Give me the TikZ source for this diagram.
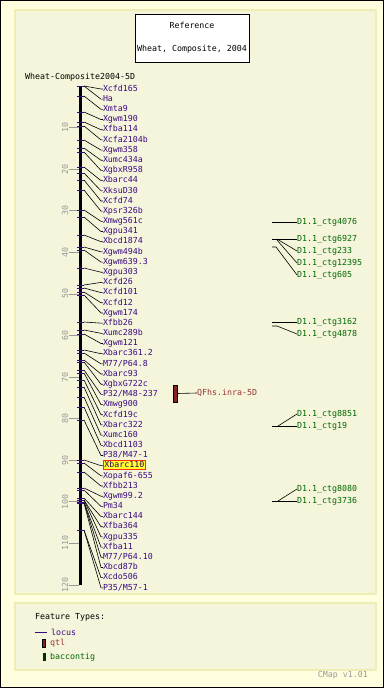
\documentclass[tikz,border=0pt]{standalone}
\usepackage{fontspec}
\usepackage{tikz}
\usetikzlibrary{positioning}
\newfontfamily\cmapfont{DejaVu Sans Mono}
\definecolor{cmOuter}{HTML}{FFFFE0}
\definecolor{cmPanel}{HTML}{F5F5DC}
\definecolor{cmEdge}{HTML}{EEEEB4}
\definecolor{cmLocus}{HTML}{3A0A80}
\definecolor{cmQtl}{HTML}{993333}
\definecolor{cmQtlBar}{HTML}{882222}
\definecolor{cmCtg}{HTML}{006600}
\definecolor{cmCtgBar}{HTML}{003300}
\definecolor{cmMute}{HTML}{999999}
\definecolor{cmMark}{HTML}{FF3300}
\definecolor{cmHigh}{HTML}{FFFF33}
\tikzset{
  cmtext/.style={font=\cmapfont\fontsize{8.3}{10}\selectfont, inner sep=0pt},
  panel/.style={draw=cmEdge, fill=cmPanel, line width=1.2pt},
  titlebox/.style={cmtext, draw, fill=white, line width=0.8pt, minimum width=114pt, minimum height=48pt, align=center},
  marker/.style={cmtext, text=cmLocus, text width=62pt, align=left, minimum height=10.18pt, outer sep=0pt, text height=6pt, text depth=1.5pt},
  ctglabel/.style={cmtext, text=cmCtg, anchor=west},
  qtllabel/.style={cmtext, text=cmQtl, anchor=west},
  scalenum/.style={cmtext, text=cmMute, rotate=90},
  locustick/.style={cmLocus, line width=0.8pt},
  majortick/.style={cmMute, line width=0.8pt},
  chraxis/.style={black, line width=3pt},
  conn/.style={black, line width=0.6pt},
  qtlbar/.style={draw=black, fill=cmQtlBar, line width=0.5pt, minimum width=4pt, minimum height=17pt, inner sep=0pt},
  legbar/.style={minimum width=3pt, minimum height=8pt, inner sep=0pt}
}
\newcommand{\hilite}[1]{{\fboxsep=0.6pt\fboxrule=0.8pt\fcolorbox{cmMark}{cmHigh}{\textcolor{cmLocus!70!black}{#1}}}}

\begin{document}
\begin{tikzpicture}[x=1pt, y=-1pt, node distance=0pt]
  \useasboundingbox (0,0) rectangle (384,688);
  \fill[cmOuter] (0,0) rectangle (384,688);
  \draw[black, line width=1pt] (0.5,0.5) rectangle (383.5,687.5);
  \draw[panel] (15,10) rectangle (376,594);
  \draw[panel] (15,603) rectangle (376,670);

  % title and map name
  \node[titlebox] (title) at (192,38) {Reference\\[13pt]Wheat, Composite, 2004};
  \node[cmtext, anchor=base west] (chrname) at (25,79) {Wheat-Composite2004-5D};

  % scale
  \draw[chraxis] (80,86) -- (80,585);
  \foreach \n in {10,20,...,120} {
    \draw[majortick] (69,{86+4.158*\n}) -- (79,{86+4.158*\n});
    \node[scalenum] (s\n) at (65,{86+4.158*\n}) {\n};
  }

  % loci
  \node[marker] (m1) at (134,89) {Xcfd165};
  \node[marker, below=of m1] (m2) {Ha};
  \node[marker, below=of m2] (m3) {Xmta9};
  \node[marker, below=of m3] (m4) {Xgwm190};
  \node[marker, below=of m4] (m5) {Xfba114};
  \node[marker, below=of m5] (m6) {Xcfa2104b};
  \node[marker, below=of m6] (m7) {Xgwm358};
  \node[marker, below=of m7] (m8) {Xumc434a};
  \node[marker, below=of m8] (m9) {XgbxR958};
  \node[marker, below=of m9] (m10) {Xbarc44};
  \node[marker, below=of m10] (m11) {XksuD30};
  \node[marker, below=of m11] (m12) {Xcfd74};
  \node[marker, below=of m12] (m13) {Xpsr326b};
  \node[marker, below=of m13] (m14) {Xmwg561c};
  \node[marker, below=of m14] (m15) {Xgpu341};
  \node[marker, below=of m15] (m16) {Xbcd1874};
  \node[marker, below=of m16] (m17) {Xgwm494b};
  \node[marker, below=of m17] (m18) {Xgwm639.3};
  \node[marker, below=of m18] (m19) {Xgpu303};
  \node[marker, below=of m19] (m20) {Xcfd26};
  \node[marker, below=of m20] (m21) {Xcfd101};
  \node[marker, below=of m21] (m22) {Xcfd12};
  \node[marker, below=of m22] (m23) {Xgwm174};
  \node[marker, below=of m23] (m24) {Xfbb26};
  \node[marker, below=of m24] (m25) {Xumc289b};
  \node[marker, below=of m25] (m26) {Xgwm121};
  \node[marker, below=of m26] (m27) {Xbarc361.2};
  \node[marker, below=of m27] (m28) {M77/P64.8};
  \node[marker, below=of m28] (m29) {Xbarc93};
  \node[marker, below=of m29] (m30) {XgbxG722c};
  \node[marker, below=of m30] (m31) {P32/M48-237};
  \node[marker, below=of m31] (m32) {Xmwg900};
  \node[marker, below=of m32] (m33) {Xcfd19c};
  \node[marker, below=of m33] (m34) {Xbarc322};
  \node[marker, below=of m34] (m35) {Xumc160};
  \node[marker, below=of m35] (m36) {Xbcd1103};
  \node[marker, below=of m36] (m37) {P38/M47-1};
  \node[marker, below=of m37] (m38) {\hilite{Xbarc110}};
  \node[marker, below=of m38] (m39) {Xopaf6-655};
  \node[marker, below=of m39] (m40) {Xfbb213};
  \node[marker, below=of m40] (m41) {Xgwm99.2};
  \node[marker, below=of m41] (m42) {Pm34};
  \node[marker, below=of m42] (m43) {Xbarc144};
  \node[marker, below=of m43] (m44) {Xfba364};
  \node[marker, below=of m44] (m45) {Xgpu335};
  \node[marker, below=of m45] (m46) {Xfba11};
  \node[marker, below=of m46] (m47) {M77/P64.10};
  \node[marker, below=of m47] (m48) {Xbcd87b};
  \node[marker, below=of m48] (m49) {Xcdo506};
  \node[marker, below=of m49] (m50) {P35/M57-1};

  \foreach \i/\y in {1/86, 2/86, 3/96, 4/112, 5/122, 6/126, 7/140, 8/148, 9/152, 10/167,
                     11/173, 12/180, 13/190, 14/210, 15/217, 16/235, 17/247, 18/250, 19/268, 20/285,
                     21/288, 22/292, 23/295, 24/322, 25/330, 26/334, 27/350, 28/353, 29/360, 30/362,
                     31/370, 32/373, 33/380, 34/387, 35/397, 36/407, 37/420, 38/460, 39/463, 40/472,
                     41/488, 42/490, 43/498, 44/500, 45/500, 46/502, 47/502, 48/503, 49/530, 50/530} {
    \coordinate (k\i) at (84,\y);
    \draw[locustick] (77,\y) -- (k\i);
    \draw[conn] (k\i) -- ([xshift=-2pt]m\i.west) -- (m\i.west);
  }

  % qtl
  \node[qtlbar] (qbar) at (175,393.5) {};
  \node[qtllabel] (qfhs) at (197,393) {QFhs.inra-5D};
  \draw[conn] (qbar.east) -- (qfhs.west);

  % bac contigs
  \node[ctglabel] (c4076) at (297,222) {D1.1\_ctg4076};
  \node[ctglabel] (c6927) at (297,239) {D1.1\_ctg6927};
  \node[ctglabel] (c233) at (297,251) {D1.1\_ctg233};
  \node[ctglabel] (c12395) at (297,263) {D1.1\_ctg12395};
  \node[ctglabel] (c605) at (297,275) {D1.1\_ctg605};
  \node[ctglabel] (c3162) at (297,322) {D1.1\_ctg3162};
  \node[ctglabel] (c4878) at (297,334) {D1.1\_ctg4878};
  \node[ctglabel] (c8851) at (297,414) {D1.1\_ctg8851};
  \node[ctglabel] (c19) at (297,426) {D1.1\_ctg19};
  \node[ctglabel] (c8080) at (297,489) {D1.1\_ctg8080};
  \node[ctglabel] (c3736) at (297,501) {D1.1\_ctg3736};
  \coordinate (b4076) at (272,222);
  \coordinate (b6927) at (272,239);
  \coordinate (b233) at (277,239);
  \coordinate (b12395) at (277,240);
  \coordinate (b605) at (272,247);
  \coordinate (b3162) at (272,322);
  \coordinate (b4878) at (272,326);
  \coordinate (b19) at (272,426);
  \coordinate (b8851) at (278,426);
  \coordinate (b3736) at (272,501);
  \coordinate (b8080) at (278,501);
  \draw[conn] (b4076) -- (c4076.west);
  \draw[conn] (b6927) -- (c6927.west);
  \draw[conn] (b233) -- (c233.west);
  \draw[conn] (b12395) -- (c12395.west);
  \draw[conn] (b605) -- ++(4,0) -- (c605.west);
  \draw[conn] (b3162) -- (c3162.west);
  \draw[conn] (b4878) -- ++(5,0) -- (c4878.west);
  \draw[conn] (b19) -- (c19.west);
  \draw[conn] (b8851) -- (c8851.west);
  \draw[conn] (b3736) -- (c3736.west);
  \draw[conn] (b8080) -- (c8080.west);

  % legend
  \node[cmtext, anchor=west] (legtitle) at (35,617) {Feature Types:};
  \coordinate (legline) at (35,632);
  \node[cmtext, text=cmLocus, anchor=west] (leglocus) at (51,632) {locus};
  \draw[cmLocus, line width=0.8pt] (legline) -- ++(12,0);
  \node[legbar, fill=cmQtlBar, draw=black, line width=0.4pt] (legqbar) at (44,643.5) {};
  \node[qtllabel] (legqtl) at (50,643) {qtl};
  \node[legbar, fill=cmCtgBar] (legcbar) at (44,656.5) {};
  \node[ctglabel] (legctg) at (50,657) {baccontig};
  \node[cmtext, text=cmMute, anchor=east] (version) at (368,675) {CMap v1.01};
\end{tikzpicture}
\end{document}
